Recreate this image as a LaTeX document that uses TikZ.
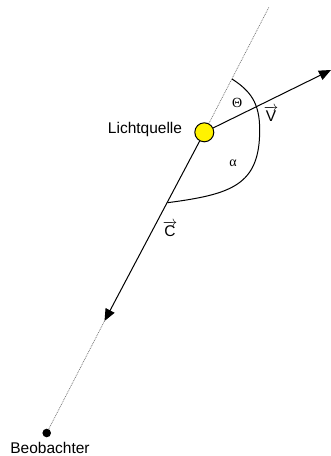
\documentclass[tikz,border=0pt]{standalone}
\usepackage{fontspec}
\setmainfont{Liberation Sans}
\newfontfamily\greekfont{Liberation Serif}
\usetikzlibrary{arrows.meta}
\begin{document}
\begin{tikzpicture}[x=1pt,y=-1pt,
  lbl/.style={font=\fontsize{15.5}{18}\selectfont, inner sep=0pt},
  glbl/.style={font=\greekfont\fontsize{14}{16}\selectfont, inner sep=0pt},
  solidline/.style={line width=1pt},
  dotline/.style={line width=0.7pt, black!55, dash pattern=on 0.9pt off 0.9pt},
  vecarrow/.style={solidline, -{Triangle[length=12pt,width=10pt]}}
]
\useasboundingbox (0,0) rectangle (331,456);
\node[circle, draw, fill=yellow, minimum size=19pt, inner sep=0pt, line width=1pt] (src) at (204.3,132.3) {};
\coordinate (top) at (269,7);
\coordinate (ctip) at (104.5,321);
\coordinate (vtip) at (331,70);
\node[circle, fill=black, minimum size=8.6pt, inner sep=0pt] (obs) at (46.7,433) {};
\draw[dotline] (src) -- (top);
\draw[dotline] (ctip) -- (obs);
\draw[vecarrow] (src) -- (ctip);
\draw[vecarrow] (src) -- (vtip);
\draw[solidline] (232,79) .. controls (250.5,90.9) and (259.7,103) .. (259.7,130)
  .. controls (259.7,185) and (231.85,194.25) .. (167.5,202.7);
\node[lbl, anchor=base] (lq) at (145,133.3) {Lichtquelle};
\node[lbl, anchor=base] (beob) at (50,453.3) {Beobachter};
\node[glbl] (theta) at (237.3,103.3) {Θ};
\node[glbl] (alpha) at (233,163) {α};
\node[lbl, anchor=base] (vlab) at (271,121) {$\overrightarrow{\hbox{V}}$};
\node[lbl, anchor=base] (clab) at (170,236.7) {$\overrightarrow{\hbox{C}}$};
\end{tikzpicture}
\end{document}
